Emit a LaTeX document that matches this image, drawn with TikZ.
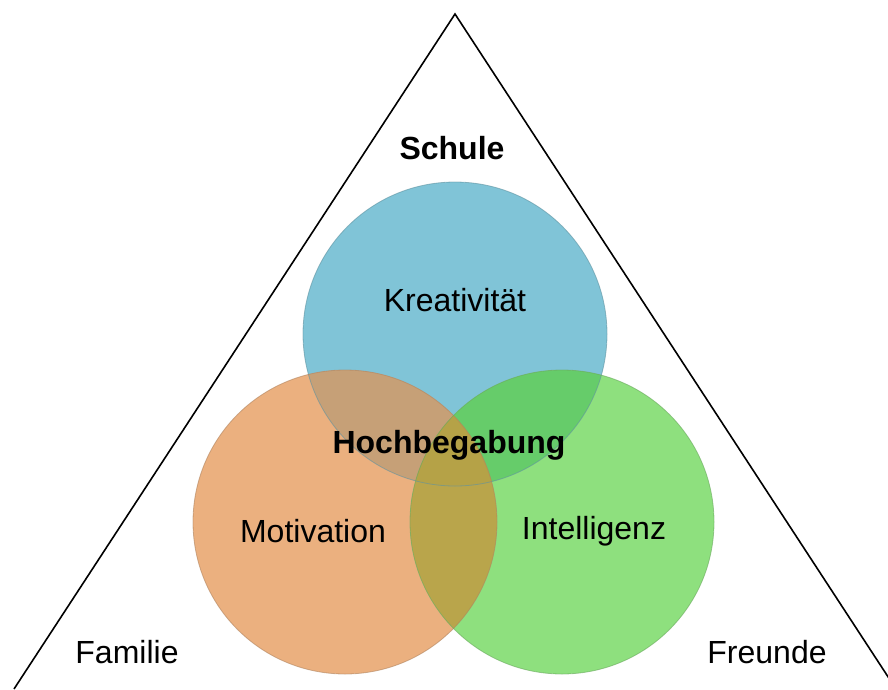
\documentclass[tikz,border=0pt]{standalone}
\usepackage{fontspec}
\setmainfont{Liberation Sans}
\usetikzlibrary{positioning}

\definecolor{kreablue}{HTML}{80C4D7}
\definecolor{motiorange}{HTML}{EBB07F}
\definecolor{intelgreen}{HTML}{8EE07E}
\definecolor{kmmix}{HTML}{C6A077}
\definecolor{kimix}{HTML}{66CC6A}
\definecolor{mimix}{HTML}{B9A54B}
\definecolor{allmix}{HTML}{B5A247}

\begin{document}
\begin{tikzpicture}[
    x=1pt, y=-1pt,
    label/.style={font=\fontsize{32}{38}\selectfont},
    title/.style={font=\fontsize{32}{38}\selectfont\bfseries},
    rim/.style={draw=#1, line width=0.8pt}
]
\useasboundingbox (0,0) rectangle (888,689);
\clip (0,0) rectangle (888,689);

% triangle
\coordinate (top) at (455,14);
\coordinate (bl) at (14,689);
\coordinate (br) at (896,689);
\draw[line width=1.6pt] (bl) -- (top) -- (br);

% circle centres
\coordinate (k) at (455,334);
\coordinate (m) at (345,522);
\coordinate (i) at (562,522);

% circles
\fill[kreablue] (k) circle (152);
\fill[motiorange] (m) circle (152);
\fill[intelgreen] (i) circle (152);
% overlaps
\begin{scope}
  \clip (k) circle (152);
  \fill[kmmix] (m) circle (152);
  \fill[kimix] (i) circle (152);
\end{scope}
\begin{scope}
  \clip (m) circle (152);
  \fill[mimix] (i) circle (152);
  \clip (k) circle (152);
  \fill[allmix] (i) circle (152);
\end{scope}
% rims
\draw[rim=kreablue!75!black, draw opacity=0.6] (k) circle (152);
\draw[rim=motiorange!75!black, draw opacity=0.6] (m) circle (152);
\draw[rim=intelgreen!75!black, draw opacity=0.6] (i) circle (152);

% labels
\node[title] (schule) at (452,148) {Schule};
\node[label] (krea) at (455,300) {Kreativität};
\node[title] (hoch) at (449,445) {Hochbegabung};
\node[label] (moti) at (313,531) {Motivation};
\node[label] (intel) at (594,531) {Intelligenz};
\node[label] (familie) at (127,652) {Familie};
\node[label] (freunde) at (767,652) {Freunde};
\end{tikzpicture}
\end{document}
